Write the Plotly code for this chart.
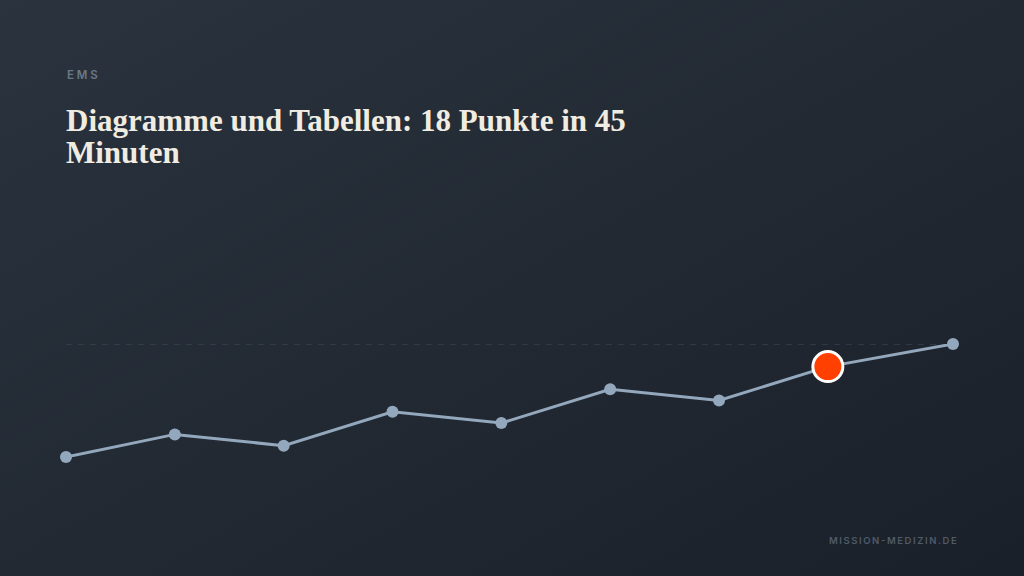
import base64
import plotly.graph_objects as go

# data
sessions = [1, 2, 3, 4, 5, 6, 7, 8, 9.15]
points = [8, 10, 9, 12, 11, 14, 13, 16, 18]
target = 18
highlight_idx = 7

kicker = "E M S"
title_lines = ["Diagramme und Tabellen: 18 Punkte in 45", "Minuten"]
footer = "\u2009".join("MISSION-MEDIZIN.DE")

W, H = 1024, 576
L, R, T, B = 66, 71, 344, 119
pw, ph = W - L - R, H - T - B


def px_x(x):
    return (x - L) / pw


def px_y(y):
    return 1 - (y - T) / ph


# diagonal background gradient as inline svg
svg = (
    '<svg xmlns="http://www.w3.org/2000/svg" width="1024" height="576">'
    '<defs><linearGradient id="g" x1="0" y1="0" x2="1" y2="1">'
    '<stop offset="0" stop-color="#2a333e"/>'
    '<stop offset="1" stop-color="#1a2029"/>'
    '</linearGradient></defs>'
    '<rect width="1024" height="576" fill="url(#g)"/></svg>'
)
bg_src = "data:image/svg+xml;base64," + base64.b64encode(svg.encode()).decode()

fig = go.Figure()

# target line
fig.add_trace(go.Scatter(
    x=[sessions[0], sessions[-1]], y=[target, target],
    mode="lines", line=dict(color="#414d5b", width=1, dash="6px,6px"),
    hoverinfo="skip", cliponaxis=False,
))

fig.add_trace(go.Scatter(
    x=sessions, y=points, mode="lines+markers",
    line=dict(color="#94a8bd", width=3),
    marker=dict(color="#94a8bd", size=12),
    cliponaxis=False,
))

fig.add_trace(go.Scatter(
    x=[sessions[highlight_idx]], y=[points[highlight_idx]], mode="markers",
    marker=dict(color="#ff4000", size=30, line=dict(color="#ffffff", width=3)),
    cliponaxis=False,
))

fig.add_layout_image(dict(
    source=bg_src, xref="paper", yref="paper",
    x=px_x(0), y=px_y(0), sizex=W / pw, sizey=H / ph,
    xanchor="left", yanchor="top", sizing="stretch", layer="below",
))

fig.add_annotation(
    text=kicker, xref="paper", yref="paper", x=px_x(65), y=px_y(66),
    xanchor="left", yanchor="top", showarrow=False,
    font=dict(family="Inter", size=11.5, color="#6b7886", weight=600),
)
# one annotation per title line to keep the tight line spacing
for i, line in enumerate(title_lines):
    fig.add_annotation(
        text=line, xref="paper", yref="paper",
        x=px_x(64), y=px_y(101 + 32 * i), xanchor="left", yanchor="top",
        showarrow=False,
        font=dict(family="Liberation Serif", size=31, color="#f1ece2", weight=600),
    )
fig.add_annotation(
    text=footer, xref="paper", yref="paper", x=px_x(959), y=px_y(533),
    xanchor="right", yanchor="top", showarrow=False,
    font=dict(family="Inter", size=9.5, color="#4f5b68", weight=600),
)

fig.update_xaxes(range=[sessions[0], sessions[-1]], visible=False, fixedrange=True)
fig.update_yaxes(range=[8, 18], visible=False, fixedrange=True)
fig.update_layout(
    width=W, height=H, showlegend=False,
    margin=dict(l=L, r=R, t=T, b=B),
    paper_bgcolor="#222a34", plot_bgcolor="rgba(0,0,0,0)",
)

fig.write_html(
    "out.html",
    config={"displayModeBar": False},
    post_script="document.body.style.margin='0';",
)
